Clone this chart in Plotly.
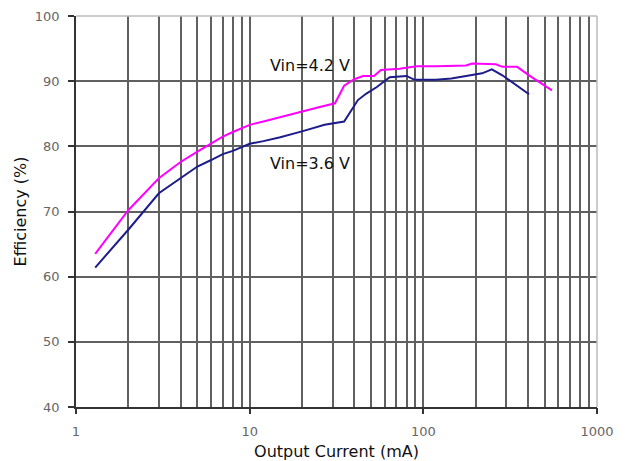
import plotly.graph_objects as go

# Data
x_42 = [1.29, 2, 3, 4, 5, 6, 7, 8, 10, 12, 15, 20, 25, 31, 35, 40, 45, 52, 57, 73, 91, 120, 176, 191, 262, 285, 347, 406, 550]
y_42 = [63.5, 70.2, 75.1, 77.6, 79.2, 80.5, 81.5, 82.2, 83.3, 83.8, 84.5, 85.4, 86.0, 86.6, 89.3, 90.3, 90.8, 90.8, 91.7, 91.9, 92.3, 92.3, 92.4, 92.7, 92.6, 92.2, 92.2, 90.9, 88.6]

x_36 = [1.29, 2, 3, 4, 5, 6, 7, 8, 10, 12, 15, 20, 27, 35, 42, 47, 54, 64, 80, 89, 118, 145, 191, 218, 248, 285, 406]
y_36 = [61.4, 67.2, 72.8, 75.1, 76.9, 77.9, 78.8, 79.3, 80.4, 80.8, 81.4, 82.3, 83.3, 83.8, 87.1, 88.1, 89.1, 90.6, 90.8, 90.2, 90.2, 90.4, 90.9, 91.2, 91.8, 90.9, 88.0]

x_grid_vals = [m * 10 ** d for d in range(3) for m in range(1, 10)] + [1000]
x_major = [1, 10, 100, 1000]
y_ticks = [40, 50, 60, 70, 80, 90, 100]

x_title = "Output Current (mA)"
y_title = "Efficiency (%)"
label_42 = "Vin=4.2 V"
label_36 = "Vin=3.6 V"

FONT = "DejaVu Sans"
GRID = "#606060"

fig = go.Figure()
fig.add_trace(go.Scatter(x=x_42, y=y_42, mode="lines", line=dict(color="#ff00ff", width=2),
                         showlegend=False, hoverinfo="skip"))
fig.add_trace(go.Scatter(x=x_36, y=y_36, mode="lines", line=dict(color="#1c1c8a", width=2),
                         showlegend=False, hoverinfo="skip"))
# invisible trace to host the overlay axis carrying decade tick marks
fig.add_trace(go.Scatter(x=x_36, y=y_36, mode="lines", xaxis="x2", opacity=0,
                         showlegend=False, hoverinfo="skip"))

fig.update_layout(
    width=628, height=461,
    margin=dict(l=76, r=31, t=16, b=54),
    paper_bgcolor="white", plot_bgcolor="white",
    font=dict(family=FONT, color="#222"),
    xaxis=dict(
        type="log", range=[0, 3], automargin=False,
        tickmode="array", tickvals=x_grid_vals,
        ticktext=[(str(int(v)) if v in x_major else "") for v in x_grid_vals],
        ticks="outside", ticklen=12, tickcolor="rgba(0,0,0,0)",
        showgrid=True, gridcolor=GRID, gridwidth=1.6,
        showline=True, linecolor="#333", linewidth=1.5,
        zeroline=False,
        tickfont=dict(family=FONT, size=13, color="#666"),
        title=dict(text=x_title, font=dict(family=FONT, size=16, color="#111"), standoff=9),
    ),
    xaxis2=dict(
        type="log", range=[0, 3], overlaying="x", anchor="y", side="bottom",
        automargin=False,
        tickmode="array", tickvals=x_major, ticks="outside", ticklen=6,
        tickcolor="#333", tickwidth=1.5, showticklabels=False, showgrid=False,
        showline=False, zeroline=False,
    ),
    yaxis=dict(
        range=[40, 100], tickmode="array", tickvals=y_ticks, automargin=False,
        ticks="outside", ticklen=6, tickcolor="#333", tickwidth=1.5,
        ticklabelstandoff=6,
        showgrid=True, gridcolor=GRID, gridwidth=1.6,
        showline=True, linecolor="#333", linewidth=1.5, zeroline=False,
        tickfont=dict(family=FONT, size=13, color="#666"),
        title=dict(text=y_title, font=dict(family=FONT, size=16, color="#111"), standoff=4),
    ),
    annotations=[
        dict(x=1.345, y=92.45, xref="x", yref="y", text=label_42, showarrow=False,
             font=dict(family=FONT, size=16, color="#111")),
        dict(x=1.345, y=77.3, xref="x", yref="y", text=label_36, showarrow=False,
             font=dict(family=FONT, size=16, color="#111")),
    ],
    shapes=[
        dict(type="line", xref="paper", yref="paper", x0=0, x1=1, y0=1, y1=1,
             line=dict(color="#bbbbbb", width=1.5), layer="above"),
        dict(type="line", xref="paper", yref="paper", x0=1, x1=1, y0=0, y1=1,
             line=dict(color="#bbbbbb", width=1.5), layer="above"),
    ],
)

fig.write_html("out.html")
